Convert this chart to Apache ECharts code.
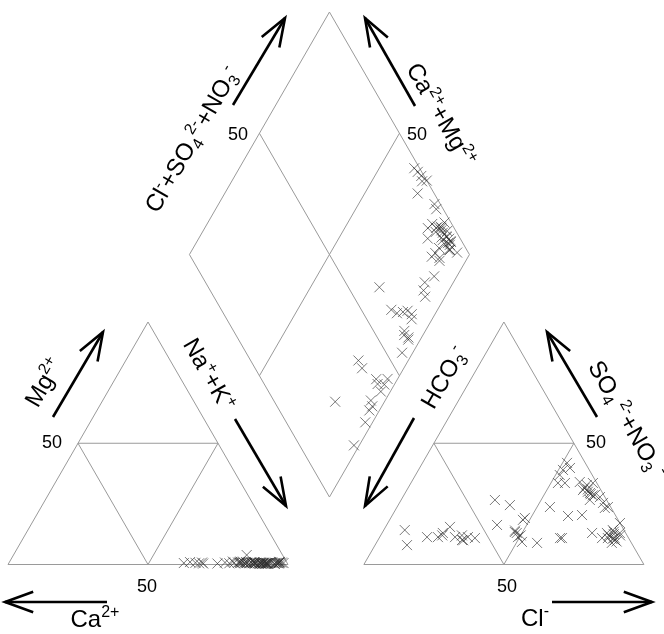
<!DOCTYPE html>
<html>
<head>
<meta charset="utf-8">
<title>Piper diagram</title>
<script src="https://cdn.jsdelivr.net/npm/echarts@6.0.0/dist/echarts.min.js"></script>
<style>
  html, body { margin: 0; padding: 0; background: #fff; }
  #chart { width: 664px; height: 634px; }
</style>
</head>
<body>
<div id="chart"></div>
<script>
// one entry per sample, % of meq/L (Ca = 100 - naK - mg, HCO3 = 100 - so4 - cl)
const naK = [
  87, 90.6, 87.5, 81.8, 90, 87.8, 79.7, 83.3, 80.4, 89, 91.6, 86.5, 82.6, 92.1, 68.9,
  90, 88.3, 84.5, 95.2, 90.8, 87.2, 78.8, 84.5, 77.1, 62.5, 68, 64.5, 66.6, 69.5,
  85, 88, 91, 86, 83, 89.5, 87.5, 92, 84, 90.5,
  96.2, 93.3, 95.7, 83.5, 74.6, 95.3, 92.5, 86.2, 88.1, 92.7, 89.5, 91.7, 92.9, 91, 89.8, 91.9,
  98.1, 82.4, 97.4, 96.4, 96.6, 94.9, 85.1, 82.2, 96.6, 93.9, 92.4, 96.4, 96.4
];
const mg = [
  0.5, 0.3, 1, 0.8, 0.4, 0.6, 1.2, 3.9, 0.7, 0.5, 0.3, 0.9, 0.6, 0.4, 0.8,
  0.5, 0.7, 1, 0.2, 0.6, 0.9, 0.5, 0.4, 0.8, 0.6, 0.5, 1, 0.7, 0.4,
  0.6, 0.4, 0.8, 0.5, 0.7, 0.3, 0.9, 0.5, 0.6, 0.4,
  0.5, 0.8, 0.6, 1, 0.4, 0.7, 0.5, 0.9, 0.6, 0.3, 0.8, 0.5, 0.7, 0.4, 0.6, 0.5,
  0.6, 1.2, 0.8, 0.5, 0.9, 0.4, 0.7, 1, 0.6, 0.8, 0.5, 0.9, 1.1
];
const so4 = [
  33.6, 13, 20.4, 36.9, 33.6, 10.9, 39, 10.9, 8.9, 13, 41.9, 39.8, 30.7, 26.6, 34,
  10.1, 29.5, 31, 32.8, 14.2, 28.7, 12, 23.3, 13, 25.4, 27.8, 33.6, 23.7, 17.1,
  11, 12.5, 9.5, 30, 31.5, 28.5, 12, 10.5, 29, 13.5,
  16.3, 26.6, 13.4, 11.3, 13, 9.3, 14, 12, 24.5, 18.4, 8.9, 19.2, 10.9, 10.9, 23.7, 20,
  8, 14.2, 11.3, 11.3, 12, 13, 11.3, 15.5, 10.1, 10, 12, 11.3, 10.9
];
const cl = [
  52.5, 75, 67.7, 51.5, 55, 79.6, 51.6, 81.7, 84.1, 80.3, 51.6, 53.7, 62.9, 67.4, 60.1,
  84.6, 66, 64.5, 63.2, 81.8, 68.2, 85.5, 74.4, 84.9, 72.7, 70.4, 65, 75.3, 82.9,
  84, 83, 85.5, 65, 63, 67.5, 81.5, 83.5, 66.5, 82.5,
  39.4, 33.5, 47.2, 49.4, 48.1, 51.8, 47, 50, 39.9, 47.6, 57.4, 47.9, 64.6, 65.3, 54.6, 62.9,
  11.4, 7.5, 16.9, 20.8, 22, 21.7, 26.9, 23, 30, 30.5, 29, 31.5, 34.2
];

// layout: triangle side = 100 units
const H = Math.sqrt(3) / 2 * 100;   // triangle height
const ANION_X0 = 127.1;              // left corner of anion triangle
const DB = [114.8, 24.1];            // bottom corner of diamond
const PX = 2.8;                      // px per unit
const ORIGIN = [8, 564.5];           // px of Ca corner
const W = 664, HGT = 634;

const FONT = "'Liberation Sans', Arial, Helvetica, sans-serif";
const LINE = "#9a9a9a";
const CROSS = "path://M0,0L10,10M10,0L0,10";

const cationPts = naK.map((n, i) => [n + mg[i] / 2, mg[i] / 100 * H]);
const anionPts = so4.map((s, i) => [ANION_X0 + cl[i] + s / 2, s / 100 * H]);
const diamondPts = naK.map((n, i) => {
  const a = (so4[i] + cl[i]) / 100;   // Cl + SO4 share
  const c = (100 - n) / 100;          // Ca + Mg share
  return [DB[0] + 50 * (a - c), DB[1] + H * (a + c)];
});

function triangle(x0) {
  const m = H / 2;
  return [
    [[x0, 0], [x0 + 100, 0], [x0 + 50, H], [x0, 0]],
    [[x0 + 25, m], [x0 + 75, m]],
    [[x0 + 25, m], [x0 + 50, 0], [x0 + 75, m]]
  ];
}
function diamond() {
  const e1 = [50, H], e2 = [-50, H];
  const p = (s, t) => [DB[0] + s * e1[0] + t * e2[0], DB[1] + s * e1[1] + t * e2[1]];
  return [
    [p(0, 0), p(1, 0), p(1, 1), p(0, 1), p(0, 0)],
    [p(0.5, 0), p(0.5, 1)],
    [p(0, 0.5), p(1, 0.5)]
  ];
}
const frame = triangle(0).concat(triangle(ANION_X0), diamond());

// annotations in px
function arrow(t, h) {
  const dx = h[0] - t[0], dy = h[1] - t[1];
  const len = Math.hypot(dx, dy);
  const ux = -dx / len, uy = -dy / len;
  const ang = 20 * Math.PI / 180, L = 30;
  const barb = s => [
    h[0] + L * (ux * Math.cos(s * ang) - uy * Math.sin(s * ang)),
    h[1] + L * (ux * Math.sin(s * ang) + uy * Math.cos(s * ang))
  ];
  const st = { stroke: "#000", lineWidth: 2.6, fill: null };
  return [
    { type: "polyline", shape: { points: [t, h] }, style: st },
    { type: "polyline", shape: { points: [barb(1), h, barb(-1)] }, style: st }
  ];
}
const RICH = {
  b: { fontSize: 24, lineHeight: 30, fontFamily: FONT, fill: "#000" },
  p: { fontSize: 16, lineHeight: 16, verticalAlign: "top", fontFamily: FONT, fill: "#000" },
  s: { fontSize: 16, lineHeight: 16, verticalAlign: "bottom", fontFamily: FONT, fill: "#000" },
  n: { fontSize: 18, lineHeight: 20, fontFamily: FONT, fill: "#000" }
};
function label(text, x, y, deg) {
  return {
    type: "text", x: x, y: y, rotation: deg * Math.PI / 180,
    style: { text: text, rich: RICH, fill: "#000", align: "center", verticalAlign: "middle" }
  };
}

const graphics = [].concat(
  arrow([53, 417], [103, 332]),
  arrow([235, 419], [286, 506]),
  arrow([107, 602], [5, 602]),
  arrow([552, 602], [652, 602]),
  arrow([414, 418], [365, 506]),
  arrow([597, 417], [547, 332]),
  arrow([233, 105], [285, 18]),
  arrow([415, 106], [365, 18]),
  [
    label("{b|Mg}{p|2+}", 45, 383, 60),
    label("{b|Na}{p|+}{b|+K}{p|+}", 208, 375, -60),
    label("{b|Ca}{p|2+}", 95, 620, 0),
    label("{b|Cl}{p|-}", 535, 619, 0),
    label("{b|HCO}{s|3}{p|-}", 445, 378, 60),
    label("{b|SO}{s|4}{p| 2-}{b|+NO}{s|3}{p| -}", 626, 420, -60),
    label("{b|Cl}{p|-}{b|+SO}{s|4}{p|2-}{b|+NO}{s|3}{p|-}", 193, 140, 60),
    label("{b|Ca}{p|2+}{b|+Mg}{p|2+}", 440, 115, -60),
    label("{n|50}", 52, 443, 0),
    label("{n|50}", 147, 587, 0),
    label("{n|50}", 596, 443, 0),
    label("{n|50}", 507, 587, 0),
    label("{n|50}", 238, 135, 0),
    label("{n|50}", 417, 135, 0)
  ]
);

const chart = echarts.init(document.getElementById("chart"), null, { renderer: "canvas" });

const crossSeries = (name, data) => ({
  name: name,
  type: "scatter",
  data: data,
  symbol: CROSS,
  symbolSize: 10,
  silent: true,
  z: 3,
  itemStyle: { color: "none", borderColor: "rgba(45,45,45,0.8)", borderWidth: 1 },
  emphasis: { disabled: true }
});

chart.setOption({
  animation: false,
  backgroundColor: "#fff",
  grid: { left: 0, right: 0, top: 0, bottom: 0 },
  xAxis: {
    type: "value", show: false,
    min: -ORIGIN[0] / PX, max: (W - ORIGIN[0]) / PX
  },
  yAxis: {
    type: "value", show: false,
    min: -(HGT - ORIGIN[1]) / PX, max: ORIGIN[1] / PX
  },
  series: [
    {
      type: "custom",
      silent: true,
      z: 1,
      data: [0],
      renderItem: function (params, api) {
        return {
          type: "group",
          children: frame.map(seg => ({
            type: "polyline",
            shape: { points: seg.map(p => api.coord(p)) },
            style: { stroke: LINE, lineWidth: 1, fill: null }
          }))
        };
      }
    },
    crossSeries("cations", cationPts),
    crossSeries("anions", anionPts),
    crossSeries("diamond", diamondPts)
  ],
  graphic: { elements: graphics }
});
</script>
</body>
</html>
